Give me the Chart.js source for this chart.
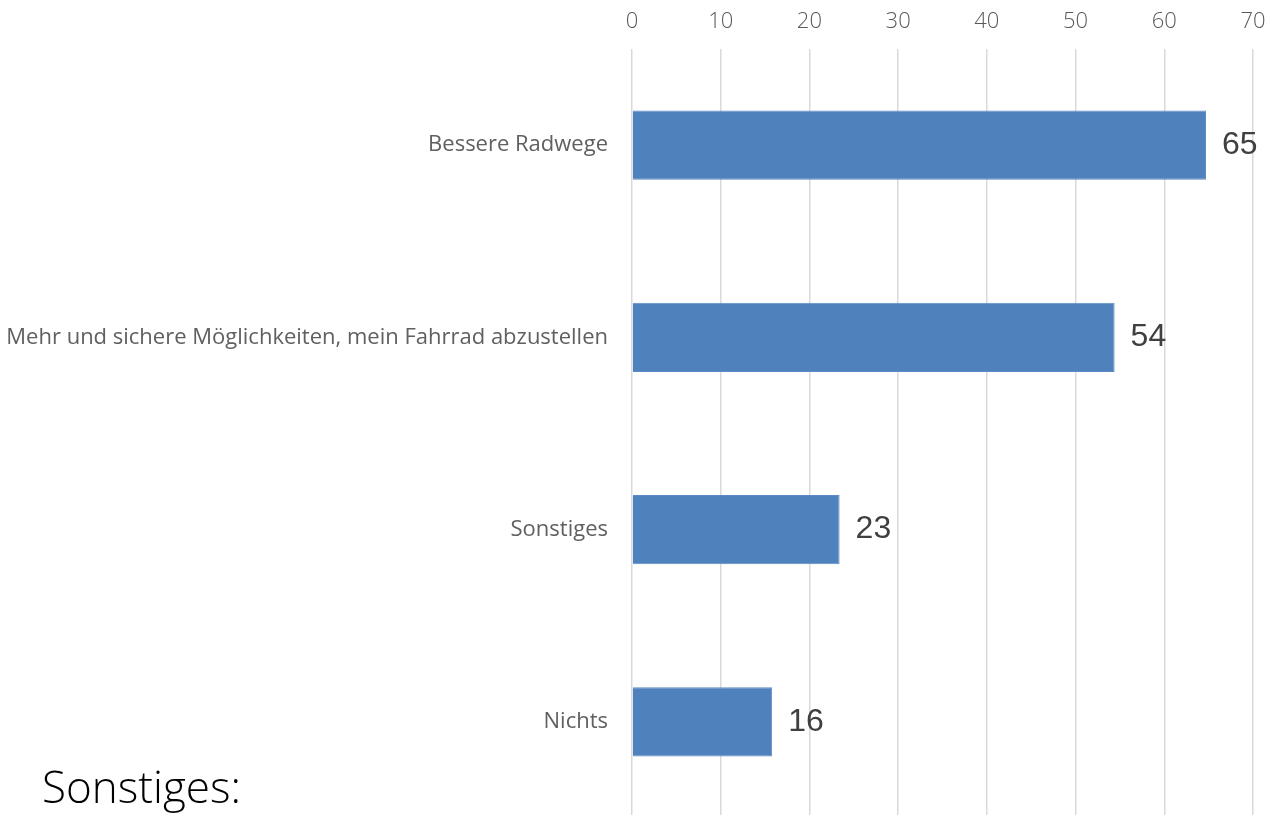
<!DOCTYPE html>
<html>
<head>
<meta charset="utf-8">
<script src="https://cdn.jsdelivr.net/npm/chart.js@4/dist/chart.umd.min.js"></script>
<style>
  html, body { margin: 0; padding: 0; background: #fff; overflow: hidden; }
  #wrap { position: relative; width: 1268px; height: 818px; }
  #note {
    position: absolute; left: 42px; top: 764px;
    font-family: "Open Sans", sans-serif; font-weight: 300;
    font-size: 44px; line-height: 44px; color: #000; white-space: nowrap;
  }
</style>
</head>
<body>
<div id="wrap">
  <canvas id="chart" width="1268" height="818"></canvas>
  <div id="note">Sonstiges:</div>
</div>
<script>
  const kategorien = ["Bessere Radwege", "Mehr und sichere Möglichkeiten, mein Fahrrad abzustellen", "Sonstiges", "Nichts"];
  const werte = [64.7, 54.4, 23.4, 15.8];
  const achseMax = 70;
  const achseSchritt = 10;

  // Zahlen rechts neben den Balken
  const wertLabels = {
    id: "wertLabels",
    afterDatasetsDraw(chart) {
      const ctx = chart.ctx;
      const meta = chart.getDatasetMeta(0);
      ctx.save();
      ctx.font = "32px 'Liberation Sans', Arial, sans-serif";
      ctx.fillStyle = "#404040";
      ctx.textAlign = "left";
      ctx.textBaseline = "middle";
      meta.data.forEach(function (bar, i) {
        ctx.fillText(Math.round(werte[i]), bar.x + 16, bar.y);
      });
      ctx.restore();
    }
  };

  var ctx = document.getElementById("chart");

  var chartGraph = new Chart(ctx, {
    type: "bar",
    data: {
      labels: kategorien,
      datasets: [
        {
          data: werte,
          backgroundColor: "#4F81BD",
          borderColor: "#5B8BC4",
          borderWidth: 1,
          categoryPercentage: 1,
          barPercentage: 0.36,
        },
      ],
    },
    options: {
      indexAxis: "y",
      responsive: false,
      animation: false,
      layout: { padding: 0 },
      plugins: {
        legend: { display: false },
        tooltip: { enabled: false },
      },
      scales: {
        x: {
          position: "top",
          min: 0,
          max: achseMax,
          ticks: {
            stepSize: achseSchritt,
            padding: 14,
            color: "#595959",
            font: { family: "Open Sans", size: 22, weight: 300 },
          },
          grid: { color: "#d9d9d9", lineWidth: 1.5, drawTicks: false },
          border: { display: false },
          afterFit(scale) {
            scale.height = 49;
            scale.paddingLeft = 0;
            scale.paddingRight = 15;
          },
        },
        y: {
          ticks: {
            padding: 24,
            color: "#606060",
            font: { family: "Open Sans", size: 22, weight: 400 },
          },
          grid: { display: false, drawTicks: false },
          border: { display: false },
          afterFit(scale) {
            scale.width = 632;
            scale.paddingTop = 0;
            scale.paddingBottom = 0;
          },
        },
      },
    },
    plugins: [wertLabels],
  });
</script>
</body>
</html>
